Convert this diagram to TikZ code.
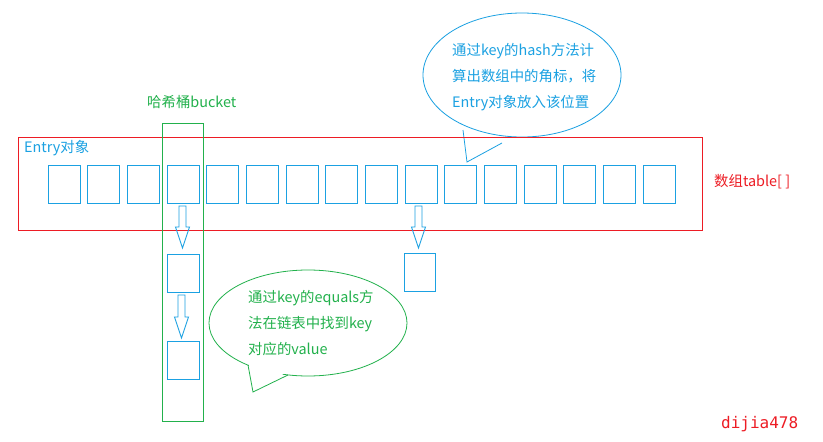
\documentclass[tikz,border=0pt]{standalone}
\usepackage{fontspec}
\setmainfont{Noto Sans CJK SC}
\newfontfamily\wmfont{DejaVu Sans Mono}
\usetikzlibrary{calc,shapes.geometric}
\definecolor{cblue}{RGB}{27,161,226}
\definecolor{cred}{RGB}{237,28,36}
\definecolor{cgreen}{RGB}{34,177,76}
\tikzset{
  cell/.style={draw=cblue, line width=0.9pt, minimum width=32pt, minimum height=38pt, inner sep=0pt},
  lbl/.style={inner sep=0pt, anchor=west, font=\fontsize{14.4}{26}\selectfont},
  harr/.style={draw=cblue, line width=0.9pt, line join=miter},
}
\newcommand\harrow[2]{%
  \draw[harr] ($(#1)+(-3.5,0)$) -- ($(#1)+(3.5,0)$) -- ($(#2)+(3.5,-21)$) -- ($(#2)+(7,-21)$)
     -- (#2) -- ($(#2)+(-7,-21)$) -- ($(#2)+(-3.5,-21)$) -- cycle;}
\begin{document}
\begin{tikzpicture}[x=1pt,y=-1pt]
\useasboundingbox[fill=white] (0,0) rectangle (823,442);
% blue callout
\node[ellipse, draw=cblue, line width=0.8pt, minimum width=198pt, minimum height=124pt, inner sep=0pt] (bc) at (522,75) {};
\coordinate (bt1) at (463,130);
\coordinate (btip) at (467,162);
\coordinate (bt2) at (502,143);
\fill[white] ($(bt1)+(0.6,-3)$) -- ($(btip)+(0,-1)$) -- ($(bt2)+(-1,-3)$) -- cycle;
\draw[cblue, line width=0.8pt] (bt1) -- (btip) -- (bt2);
\node[lbl, text=cblue, align=left, anchor=north west] (btxt) at (452,43) {通过key的hash方法计\\算出数组中的角标，将\\Entry对象放入该位置};
% green callout
\node[ellipse, draw=cgreen, line width=0.8pt, minimum width=198pt, minimum height=106pt, inner sep=0pt] (gc) at (308,323) {};
\coordinate (gt1) at (248,365);
\coordinate (gtip) at (253,392);
\coordinate (gt2) at (288,375);
\fill[white] ($(gt1)+(0.6,-3)$) -- ($(gtip)+(0,-1)$) -- ($(gt2)+(-1,-3)$) -- cycle;
\draw[cgreen, line width=0.8pt] (gt1) -- (gtip) -- (gt2);
\node[lbl, text=cgreen, align=left, anchor=north west] (gtxt) at (248,290) {通过key的equals方\\法在链表中找到key\\对应的value};
% array frame
\draw[cred, line width=0.9pt] (18,137) rectangle (702,230);
\node[lbl, text=cblue] (entry) at (24,148) {Entry对象};
\node[lbl, text=cred] (tbl) at (714,182) {数组table[\ ]};
% bucket
\draw[cgreen, line width=0.9pt] (162,123) rectangle (203,421);
\node[lbl, text=cgreen] (bkt) at (147,102) {哈希桶bucket};
% cells
\foreach \i in {1,...,16} {
  \node[cell] (b\i) at ({64+(\i-1)*39.67},184) {};
}
\node[cell] (l1) at (183,273) {};
\node[cell] (l2) at (183,360.5) {};
\node[cell, minimum width=31pt] (r1) at (419.5,272) {};
\coordinate (a1t) at (182.5,206);
\coordinate (a1b) at (182.5,248);
\coordinate (a2t) at (181.5,295);
\coordinate (a2b) at (181.5,338);
\coordinate (a3t) at (418.5,206);
\coordinate (a3b) at (418.5,248);
\harrow{a1t}{a1b}
\harrow{a2t}{a2b}
\harrow{a3t}{a3b}
\node[inner sep=0pt, anchor=west, text=cred, font=\wmfont\fontsize{16}{18}\selectfont] (wm) at (721,424) {dijia478};
\end{tikzpicture}
\end{document}
